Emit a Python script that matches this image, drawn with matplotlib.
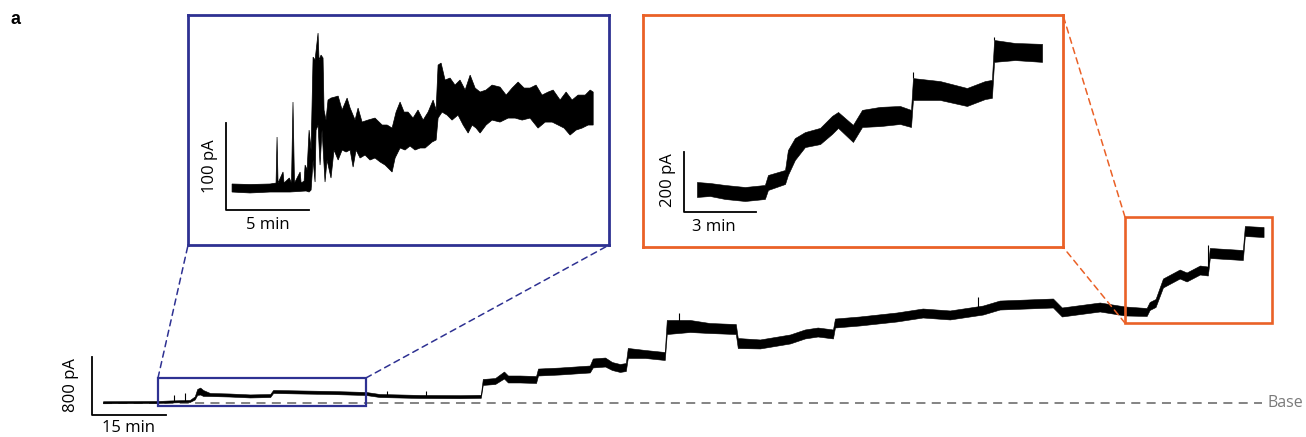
import numpy as np
import matplotlib.pyplot as plt
from matplotlib.patches import Rectangle, ConnectionPatch

plt.rcParams['font.family'] = ['Open Sans', 'DejaVu Sans']

# whole recording, time in min, current in pA (centre of noise band + half width)
t_main = [0, 11.1, 13.6, 17.6, 18.6, 19.1, 19.7, 20.3, 21.7, 25.7, 29.8, 33.9, 34.5,
          39.9, 46.0, 53.3, 56.1, 64.3, 72.4, 76.6, 77.0, 79.5, 81.3, 82.1, 84.5,
          87.8, 88.2, 92.6, 98.7, 99.3, 101.8, 103.2, 104.8, 106.0, 106.4, 109.9,
          113.9, 114.3, 119.0, 123.0, 128.3, 128.7, 133.2, 139.3, 142.3, 144.9,
          148.0, 148.4, 153.4, 160.9, 166.2, 171.7, 178.4, 181.8, 192.6, 194.4,
          202.1, 207.2, 211.6, 212.2, 213.4, 214.9, 218.3, 219.7, 222.4, 224.0,
          224.4, 231.1, 231.5, 235.3]
i_main = [10, 14, 21, 28, 69, 152, 165, 138, 117, 110, 97, 103, 159,
          152, 145, 131, 103, 90, 87, 92, 290, 303, 386, 331, 331,
          324, 427, 441, 469, 552, 565, 510, 483, 496, 690, 676,
          648, 1048, 1062, 1034, 1020, 827, 814, 883, 952, 979,
          952, 1103, 1131, 1186, 1241, 1214, 1282, 1351, 1379, 1255,
          1324, 1269, 1255, 1338, 1379, 1655, 1779, 1738, 1834, 1820,
          2069, 2041, 2372, 2358]
hw_main = [14, 14, 14, 14, 21, 41, 48, 41, 21, 21, 21, 21, 21,
           21, 21, 21, 21, 21, 21, 21, 41, 41, 48, 48, 48,
           48, 48, 48, 48, 62, 62, 55, 55, 55, 69, 55,
           55, 97, 83, 69, 69, 69, 62, 62, 62, 62,
           62, 62, 62, 62, 62, 62, 62, 62, 62, 62,
           62, 62, 55, 55, 55, 62, 62, 62, 62, 62,
           69, 69, 69, 69]
spike_t_main = [14.4, 16.6, 57.6, 65.5, 116.8, 177.4, 224.0]
spike_i_main = [110, 138, 165, 165, 1241, 1462, 2179]

# blue zoom (min, pA relative to its start level): upper and lower edge of the trace
t_blue_hi = [0.00, 1.08, 2.29, 2.65, 2.71, 2.77, 3.07, 3.13, 3.45, 3.58, 3.67, 3.76,
             4.10, 4.16, 4.34, 4.40, 4.52, 4.64, 4.76, 4.88, 5.00, 5.18, 5.24, 5.36,
             5.48, 5.54, 5.66, 5.78, 5.96, 6.20, 6.39, 6.63, 6.93, 7.11, 7.41, 7.59,
             7.83, 8.19, 8.61, 9.04, 9.34, 9.64, 9.88, 10.12, 10.36, 10.60, 10.90,
             11.20, 11.51, 11.81, 12.11, 12.29, 12.41, 12.59, 12.83, 13.13, 13.43,
             13.73, 14.04, 14.34, 14.64, 14.94, 15.30, 15.66, 16.14, 16.51, 16.87,
             17.23, 17.59, 17.95, 18.31, 18.67, 19.04, 19.34, 19.76, 20.12, 20.48,
             20.84, 21.27, 21.57, 21.75]
i_blue_hi = [4.6, 4.0, 4.6, 5.7, 58.6, 5.7, 18.4, 5.7, 11.5, 5.7, 98.8, 5.7,
             18.4, 5.7, 8.0, 26.4, 20.7, 66.6, 43.7, 150.5, 147.1, 178.1, 147.1, 152.8,
             149.4, 89.6, 78.1, 101.1, 103.4, 104.6, 105.7, 89.6, 103.4, 91.9, 78.1, 91.9,
             75.8, 78.1, 80.4, 72.4, 72.4, 68.9, 87.3, 98.8, 87.3, 87.3, 80.4,
             89.6, 78.1, 87.3, 101.1, 89.6, 141.3, 143.6, 124.1, 126.4, 118.3,
             124.1, 112.6, 129.8, 114.9, 110.3, 112.6, 118.3, 116.0, 106.8, 114.9,
             121.8, 114.9, 114.9, 118.3, 106.8, 110.3, 112.6, 101.1, 110.3, 101.1,
             106.8, 106.8, 112.6, 110.3]
t_blue_lo = [0.00, 1.08, 2.29, 3.49, 4.46, 4.64, 4.76, 4.88, 5.00, 5.06, 5.18, 5.30,
             5.42, 5.60, 5.72, 5.96, 6.14, 6.39, 6.63, 6.87, 7.11, 7.29, 7.47, 7.71,
             8.01, 8.31, 8.61, 8.92, 9.22, 9.52, 9.64, 9.82, 10.12, 10.42, 10.72,
             11.02, 11.33, 11.63, 12.05, 12.29, 12.41, 12.65, 12.95, 13.25, 13.61,
             13.92, 14.22, 14.46, 14.70, 14.94, 15.30, 15.66, 16.14, 16.63, 17.05,
             17.47, 17.95, 18.43, 18.86, 19.28, 19.64, 20.00, 20.36, 20.72, 21.08,
             21.45, 21.75]
i_blue_lo = [-4.6, -5.7, -4.6, -4.6, -3.4, -4.6, -2.3, 32.2, 6.9, 66.6, 72.4, 26.4,
             66.6, 6.9, 32.2, 11.5, 43.7, 32.2, 43.7, 41.4, 43.7, 24.1, 43.7, 34.5,
             37.9, 32.2, 34.5, 29.9, 26.4, 20.7, 18.4, 34.5, 46.0, 43.7, 48.3,
             43.7, 46.0, 46.0, 52.9, 55.2, 80.4, 87.3, 83.9, 78.1, 83.9,
             72.4, 63.2, 72.4, 68.9, 63.2, 72.4, 78.1, 75.8, 80.4, 80.4,
             78.1, 80.4, 68.9, 75.8, 75.8, 72.4, 68.9, 60.9, 66.6, 68.9,
             72.4, 72.4]

# orange zoom (min, pA relative to its start level): upper / lower edge
t_orange = [0, 0.54, 1.17, 2.0, 2.83, 2.96, 3.67, 3.79, 4.08, 4.5, 5.13, 5.63, 5.88,
            6.5, 6.88, 7.63, 8.46, 8.92, 9.0, 10.13, 11.25, 12.0, 12.29, 12.38,
            13.25, 14.38]
hi_orange = [26.7, 23.3, 16.7, 10, 16.7, 50, 66.7, 133, 173, 193, 207, 247, 260,
             217, 267, 277, 280, 267, 373, 363, 340, 363, 367, 500, 490, 487]
lo_orange = [-23.3, -20, -30, -36.7, -30, 0, 20, 50, 100, 143, 153, 187, 207,
             160, 210, 213, 220, 210, 300, 300, 280, 303, 307, 427, 433, 427]
spike_t_orange = [9.0, 12.38]
spike_i_orange = [393, 510]

blue = '#2e3192'
orange = '#ea6127'
grey = '#7a7a7a'

fig = plt.figure(figsize=(13.06, 4.37), dpi=100)

ax = fig.add_axes([0, 0, 1, 1])
ax.set_xlim(-20.88, 243.9)
ax.set_ylim(-469, 5558)
ax.axis('off')

lo_m = [c - h for c, h in zip(i_main, hw_main)]
hi_m = [c + h for c, h in zip(i_main, hw_main)]
ax.plot([0, 234.9], [0, 0], ls=(0, (5, 3.5)), color=grey, lw=1.3, zorder=1)
ax.fill_between(t_main, lo_m, hi_m, color='k', lw=0.4, zorder=3)
ax.vlines(spike_t_main, np.interp(spike_t_main, t_main, i_main), spike_i_main,
          color='k', lw=0.8, zorder=3)
ax.text(236.1, 0, 'Base', ha='left', va='center', color=grey, fontsize=11.5)

ax.add_patch(Rectangle((11.15, -41), 42.15, 386, fill=False, ec=blue, lw=1.6, zorder=4))
ax.add_patch(Rectangle((207.2, 1103), 29.8, 1462, fill=False, ec=orange, lw=1.9, zorder=4))

# scale bar
ax.plot([-2.23, -2.23, 12.77], [635, -165, -165], color='k', lw=1.3)
ax.text(-6.4, 248, '800 pA', rotation=90, ha='center', va='center', fontsize=12)
ax.text(5.1, -350, '15 min', ha='center', va='center', fontsize=12)

fig.text(0.008, 0.955, 'a', weight='bold', fontsize=13, family='Liberation Sans',
         va='center')


def frame(rect, color, xlim, ylim):
    a = fig.add_axes(rect)
    a.set_xlim(*xlim)
    a.set_ylim(*ylim)
    a.set_xticks([])
    a.set_yticks([])
    for s in a.spines.values():
        s.set_color(color)
        s.set_linewidth(2.0)
    return a


def bars(a, x0, y0, w, h, vlab, hlab, vpos, hpos):
    a.plot([x0, x0, x0 + w], [y0 + h, y0, y0], color='k', lw=1.3)
    a.text(*vpos, vlab, rotation=90, ha='center', va='center', fontsize=12)
    a.text(*hpos, hlab, ha='center', va='center', fontsize=12)


ax_b = frame([0.1440, 0.4394, 0.3224, 0.5263], blue, (-2.65, 22.71), (-65.5, 198.9))
ax_b.fill(np.r_[t_blue_hi, t_blue_lo[::-1]], np.r_[i_blue_hi, i_blue_lo[::-1]],
          color='k', lw=0.5, ec='k')
bars(ax_b, -0.36, -25.3, 5, 100, '100 pA', '5 min', (-1.3, 25.3), (2.17, -43))

ax_o = frame([0.4923, 0.4348, 0.3216, 0.5309], orange, (-2.25, 15.25), (-190, 583.3))
ax_o.fill_between(t_orange, lo_orange, hi_orange, color='k', lw=0.4)
ax_o.vlines(spike_t_orange, np.interp(spike_t_orange, t_orange, hi_orange),
            spike_i_orange, color='k', lw=0.8)
bars(ax_o, -0.54, -73.3, 3, 200, '200 pA', '3 min', (-1.2, 33), (0.71, -125))

dash = (0, (4, 3))
for xy_main, xy_in, a, c in [((11.15, 345), (0, 0), ax_b, blue),
                             ((53.3, 345), (1, 0), ax_b, blue),
                             ((207.2, 1103), (1, 0), ax_o, orange),
                             ((207.2, 2565), (1, 1), ax_o, orange)]:
    con = ConnectionPatch(xyA=xy_main, coordsA=ax.transData, xyB=xy_in,
                          coordsB=a.transAxes, color=c, lw=1.1, ls=dash)
    fig.add_artist(con)

fig.savefig('out.png', dpi=100)
